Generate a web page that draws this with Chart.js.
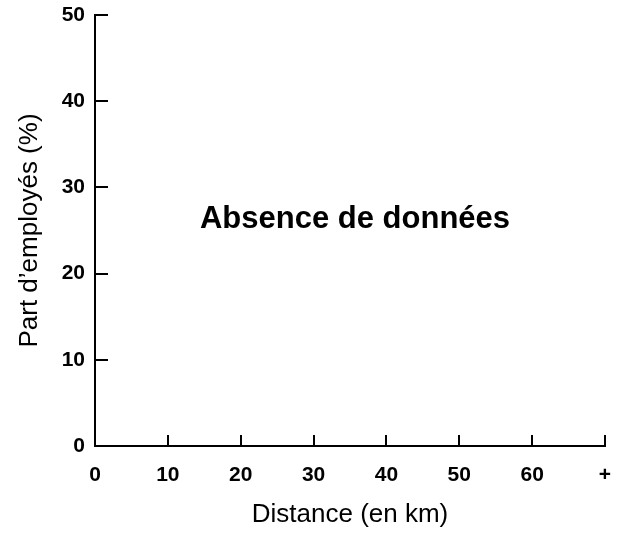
<!DOCTYPE html>
<html>
<head>
<meta charset="utf-8">
<script src="https://cdn.jsdelivr.net/npm/chart.js@4"></script>
<style>
  html, body { margin: 0; padding: 0; background: #fff; }
  #wrap { width: 624px; height: 533px; }
</style>
</head>
<body>
<div id="wrap"><canvas id="chart"></canvas></div>
<script>
// Axis ranges and tick labels (no data in this chart)
const xTickValues = [0, 10, 20, 30, 40, 50, 60, 70];
const xTickLabels = ['0', '10', '20', '30', '40', '50', '60', '+'];
const yTickValues = [0, 10, 20, 30, 40, 50];
const seriesPoints = []; // "Absence de données"
const noDataText = 'Absence de données';
const xTitle = 'Distance (en km)';
const yTitle = 'Part d’employés (%)';

const FONT = "'Liberation Sans', Arial, sans-serif";

// Draws inward tick marks and the "no data" message
const inwardTicks = {
  id: 'inwardTicks',
  afterDraw(chart) {
    const { ctx, chartArea, scales } = chart;
    ctx.save();
    ctx.strokeStyle = '#000';
    ctx.lineWidth = 2;
    ctx.beginPath();
    xTickValues.forEach(v => {
      if (v === 0) return;
      const px = Math.round(scales.x.getPixelForValue(v));
      ctx.moveTo(px, chartArea.bottom);
      ctx.lineTo(px, chartArea.bottom - 11);
    });
    yTickValues.forEach(v => {
      const py = Math.round(scales.y.getPixelForValue(v));
      ctx.moveTo(chartArea.left, py);
      ctx.lineTo(chartArea.left + 13, py);
    });
    ctx.stroke();

    ctx.fillStyle = '#000';
    ctx.font = 'bold 31px ' + FONT;
    ctx.textAlign = 'center';
    ctx.textBaseline = 'middle';
    ctx.fillText(noDataText, (chartArea.left + chartArea.right) / 2 + 5, (chartArea.top + chartArea.bottom) / 2 - 11);
    ctx.restore();
  }
};

new Chart(document.getElementById('chart'), {
  type: 'scatter',
  data: {
    datasets: [{ data: seriesPoints, pointRadius: 0 }]
  },
  options: {
    responsive: true,
    maintainAspectRatio: false,
    animation: false,
    layout: { padding: { top: 15, right: 19, left: 0, bottom: 0 } },
    plugins: {
      legend: { display: false },
      tooltip: { enabled: false }
    },
    scales: {
      x: {
        type: 'linear',
        min: 0,
        max: 70,
        afterBuildTicks: scale => { scale.ticks = xTickValues.map(v => ({ value: v })); },
        afterFit: scale => { scale.height = 87; },
        grid: { display: false },
        border: { display: true, color: '#000', width: 2 },
        ticks: {
          color: '#000',
          padding: 9,
          font: { family: FONT, size: 21, weight: 'bold' },
          maxRotation: 0,
          callback: (v) => xTickLabels[xTickValues.indexOf(v)]
        },
        title: {
          display: true,
          text: xTitle,
          color: '#000',
          font: { family: FONT, size: 26 },
          padding: 3
        }
      },
      y: {
        type: 'linear',
        min: 0,
        max: 50,
        afterBuildTicks: scale => { scale.ticks = yTickValues.map(v => ({ value: v })); },
        afterFit: scale => { scale.width = 95; },
        grid: { display: false },
        border: { display: true, color: '#000', width: 2 },
        ticks: {
          color: '#000',
          padding: 2,
          font: { family: FONT, size: 21, weight: 'bold' }
        },
        title: {
          display: true,
          text: yTitle,
          color: '#000',
          font: { family: FONT, size: 26 },
          padding: 14
        }
      }
    }
  },
  plugins: [inwardTicks]
});
</script>
</body>
</html>
